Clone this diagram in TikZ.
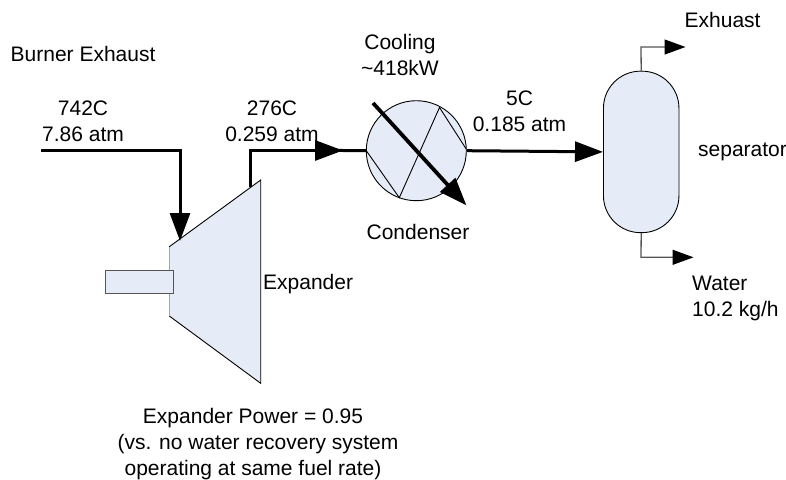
\documentclass[tikz,border=0pt]{standalone}
\usepackage{fontspec}
\setmainfont{Liberation Sans}
\usetikzlibrary{arrows.meta}
\definecolor{fillblue}{HTML}{E6ECF7}
\definecolor{edgegray}{HTML}{555555}
\tikzset{
  x=1pt,y=-1pt,
  lbl/.style={inner sep=0pt,font=\fontsize{21}{26}\selectfont,text=black,align=center},
  lbll/.style={lbl,align=left},
  equip/.style={draw=black,fill=fillblue,line width=0.9pt},
  thick line/.style={line width=3pt,draw=black},
  thin line/.style={line width=1.3pt,draw=edgegray},
  bighead/.style={-{Triangle[length=28pt,width=20pt,color=black,fill=black]}},
  midhead/.style={-{Triangle[length=21pt,width=15pt,color=black,fill=black]}},
}
\begin{document}
\begin{tikzpicture}
\useasboundingbox (0,0) rectangle (786,479);
% expander
\path[fill=fillblue] (169.3,246.7) -- (260.7,180) -- (260.7,383.3) -- (169.3,316) -- cycle;
\draw[black,line width=0.9pt] (169.3,246.7) -- (260.7,180) -- (260.7,383.3) -- (169.3,316);
\draw[gray!70,line width=0.8pt] (169.3,246.7) -- (169.3,316);
\node[equip,draw=edgegray,line width=1.1pt,minimum width=68pt,minimum height=23pt,inner sep=0pt] (shaft) at (139.8,281.6) {};
% coordinates
\coordinate (inA) at (41,150);
\coordinate (inB) at (180,150);
\coordinate (inC) at (180,241);
\coordinate (outA) at (250,187);
\coordinate (outB) at (250,150.5);
\coordinate (outC) at (343,150.5);
% cooler
\node[equip,circle,minimum size=100pt,inner sep=0pt] (hx) at (416.3,150.7) {};
\coordinate (z1) at (366.3,150.7);
\coordinate (z2) at (399.3,197.7);
\coordinate (z3) at (439.5,107.5);
\coordinate (z4) at (466.2,149);
\draw[black,line width=0.9pt] (z1) -- (z2) -- (z3) -- (z4);
% separator
\node[equip,rounded corners=37pt,minimum width=75.5pt,minimum height=161.5pt,inner sep=0pt] (sep) at (641.2,151.9) {};
\coordinate (exA) at (641,47);
\coordinate (exB) at (685.5,47);
\coordinate (waA) at (641,257.3);
\coordinate (waB) at (693.5,257.3);
% connectors
\draw[thick line,bighead] (inA) -- (inB) -- (inC);
\draw[thick line,bighead] (outA) -- (outB) -- (outC);
\draw[thick line,shorten <=-6pt] (outC) -- (hx.west);
\draw[thick line,bighead] (hx.east) -- (sep.west);
\draw[thin line,midhead] (sep.north) -- (exA) -- (exB);
\draw[thin line,midhead] (sep.south) -- (waA) -- (waB);
\coordinate (cA) at (373,103);
\coordinate (cB) at (466.5,205.5);
\draw[line width=3.8pt,black,bighead] (cA) -- (cB);
% labels
\node[lbll,anchor=west] (t1) at (10.5,54) {Burner Exhaust};
\node[lbl] (t2) at (83,121) {742C\\7.86 atm};
\node[lbl] (t3) at (272,121) {276C\\0.259 atm};
\node[lbl] (t4) at (400,55) {Cooling\\\textasciitilde418kW};
\node[lbl] (t5) at (519.5,111) {5C\\0.185 atm};
\node[lbl,anchor=west] (t6) at (684.5,20) {Exhuast};
\node[lbl,anchor=west] (t7) at (698,152) {separator};
\node[lbl] (t8) at (418,232) {Condenser};
\node[lbl,anchor=west] (t9) at (263,284) {Expander};
\node[lbll,anchor=west] (t10) at (692,298) {Water\\10.2 kg/h};
\node[lbl] (t11) at (253,444) {Expander Power = 0.95\\\hspace*{10pt}(vs. no water recovery system\\operating at same fuel rate)};
\end{tikzpicture}
\end{document}
